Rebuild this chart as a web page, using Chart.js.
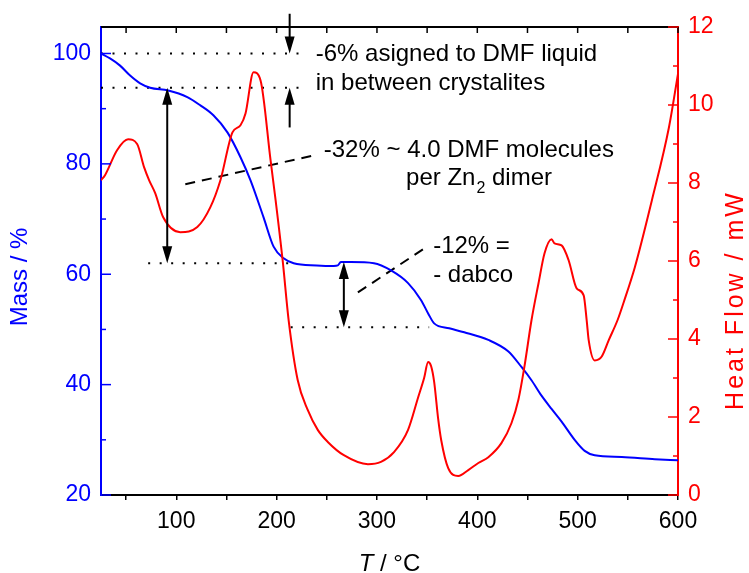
<!DOCTYPE html>
<html>
<head>
<meta charset="utf-8">
<script src="https://cdn.jsdelivr.net/npm/chart.js@4.4.0/dist/chart.umd.min.js"></script>
<style>
  html, body { margin: 0; padding: 0; background: #fff; }
</style>
</head>
<body>
<canvas id="tga" width="749" height="573"></canvas>
<script>
// -------------------------------
// Data
// -------------------------------
const massT = [25, 34, 44, 54, 64, 74, 92, 111, 124, 137, 151, 164, 174, 187, 197, 207, 217, 240, 257, 261, 264, 274, 297, 314, 331, 344, 351, 357, 372, 387, 411, 431, 444, 454, 464, 474, 484, 497, 507, 517, 544, 577, 600];
const massVal = [100, 99.1, 97.8, 96.0, 94.6, 93.8, 93.3, 92.1, 90.6, 88.8, 85.7, 81.2, 77.0, 70.3, 65.0, 62.9, 62.0, 61.6, 61.5, 61.6, 62.2, 62.2, 62.0, 60.7, 58.4, 55.3, 52.9, 51.1, 50.2, 49.5, 48.1, 46.0, 43.2, 40.8, 38.0, 35.6, 33.3, 30.0, 28.0, 27.2, 26.9, 26.5, 26.3];

const heatT = [25, 29, 41, 52, 61, 68, 73, 79, 87, 104, 121, 134, 144, 156, 164, 169, 177, 184, 194, 199, 206, 212, 221, 231, 241, 251, 267, 291, 304, 317, 331, 341, 347, 351, 354, 357, 361, 364, 371, 381, 391, 401, 411, 424, 434, 441, 447, 454, 461, 467, 474, 477, 484, 491, 499, 506, 509, 511, 517, 524, 531, 540, 546, 557, 574, 591, 600];
const heatVal = [8.07, 8.2, 8.84, 9.12, 9.0, 8.4, 8.07, 7.74, 7.12, 6.74, 6.87, 7.38, 8.07, 9.3, 9.48, 9.78, 10.84, 10.63, 8.58, 7.56, 6.02, 4.48, 2.95, 2.18, 1.67, 1.36, 1.02, 0.79, 0.85, 1.1, 1.67, 2.5, 3.0, 3.41, 3.3, 2.9, 1.95, 1.41, 0.69, 0.49, 0.64, 0.82, 0.97, 1.33, 1.84, 2.45, 3.3, 4.48, 5.43, 6.2, 6.56, 6.45, 6.4, 6.02, 5.3, 5.12, 4.48, 3.97, 3.45, 3.55, 3.97, 4.5, 4.95, 5.84, 7.56, 9.43, 10.8];

// dotted guide levels (mass %), and their T range
const dotLevel = [100, 93.8, 62, 50.4];
const dotFrom = [25, 25, 72, 214];
const dotTo = [230, 230, 214, 352];

// dashed leader lines (T, mass) -> (T, mass)
const dashT0 = [109, 281];
const dashM0 = [76.3, 56.7];
const dashT1 = [241, 349];
const dashM1 = [81.7, 64.9];

// arrows: at T, from mass -> to mass (head at "to"), both = heads on both ends
const arrowT = [213, 213, 91, 267];
const arrowFrom = [107.2, 86.6, 93.8, 62.2];
const arrowTo = [100, 93.8, 62, 50.4];
const arrowBoth = [false, false, true, true];

// annotation texts, anchored at (T, mass) = left baseline
const noteText = ['-6% asigned to DMF liquid', 'in between crystalites', '-32% ~ 4.0 DMF molecules', 'per Zn_2 dimer', '-12% =', '- dabco'];
const noteT = [239, 239, 247, 329, 356, 356];
const noteMass = [98.7, 93.3, 81.2, 76.1, 63.8, 58.6];

// -------------------------------
// Helpers
// -------------------------------
const FONT = '"Liberation Sans", Arial, sans-serif';
const BLUE = '#0000ff';
const RED = '#ff0000';

function pts(xs, ys) {
    return xs.map((x, i) => ({ x: x, y: ys[i] }));
}

function guide(points, dash) {
    return {
        data: points,
        yAxisID: 'y',
        borderColor: '#000',
        borderWidth: 2,
        borderDash: dash,
        pointRadius: 0,
        tension: 0
    };
}

function drawArrowHead(ctx, x, yTip, dir) {
    // dir = +1 points down, -1 points up
    ctx.beginPath();
    ctx.moveTo(x, yTip);
    ctx.lineTo(x - 5, yTip - dir * 17);
    ctx.lineTo(x + 5, yTip - dir * 17);
    ctx.closePath();
    ctx.fill();
}

// -------------------------------
// Decorations: inward ticks, frame, arrows, texts, axis titles
// -------------------------------
const decor = {
    id: 'decor',
    afterDraw(chart) {
        const { ctx, chartArea: a, scales } = chart;
        const x = scales.x, y = scales.y, y1 = scales.y1;
        ctx.save();

        // top frame line + ticks
        ctx.strokeStyle = '#000';
        ctx.lineWidth = 2;
        ctx.beginPath();
        ctx.moveTo(a.left, a.top);
        ctx.lineTo(a.right, a.top);
        ctx.stroke();
        ctx.lineWidth = 1.5;
        x.ticks.forEach(t => {
            const px = x.getPixelForValue(t.value);
            ctx.beginPath();
            ctx.moveTo(px, a.top);
            ctx.lineTo(px, a.top + 6);
            ctx.stroke();
        });

        // left ticks (inward)
        ctx.strokeStyle = BLUE;
        y.ticks.forEach(t => {
            const py = y.getPixelForValue(t.value);
            const len = t.value % 20 === 0 ? 10 : 5;
            ctx.beginPath();
            ctx.moveTo(a.left, py);
            ctx.lineTo(a.left + len, py);
            ctx.stroke();
        });

        // right ticks (inward)
        ctx.strokeStyle = RED;
        y1.ticks.forEach(t => {
            const py = y1.getPixelForValue(t.value);
            const len = t.value % 2 === 0 ? 10 : 5;
            ctx.beginPath();
            ctx.moveTo(a.right, py);
            ctx.lineTo(a.right - len, py);
            ctx.stroke();
        });

        // arrows
        ctx.strokeStyle = '#000';
        ctx.fillStyle = '#000';
        ctx.lineWidth = 2;
        arrowT.forEach((t, i) => {
            const px = x.getPixelForValue(t);
            const p0 = y.getPixelForValue(arrowFrom[i]);
            const p1 = y.getPixelForValue(arrowTo[i]);
            const dir = p1 > p0 ? 1 : -1;
            ctx.beginPath();
            ctx.moveTo(px, p0 + (arrowBoth[i] ? dir * 10 : 0));
            ctx.lineTo(px, p1 - dir * 10);
            ctx.stroke();
            drawArrowHead(ctx, px, p1, dir);
            if (arrowBoth[i]) drawArrowHead(ctx, px, p0, -dir);
        });

        // annotation texts
        ctx.textBaseline = 'alphabetic';
        ctx.textAlign = 'left';
        noteText.forEach((txt, i) => {
            let px = x.getPixelForValue(noteT[i]);
            const py = y.getPixelForValue(noteMass[i]);
            const parts = txt.split('_');
            ctx.font = '24px ' + FONT;
            ctx.fillText(parts[0], px, py);
            if (parts.length > 1) {
                px += ctx.measureText(parts[0]).width + 1;
                ctx.font = '16px ' + FONT;
                ctx.fillText(parts[1][0], px, py + 8);
                px += ctx.measureText(parts[1][0]).width;
                ctx.font = '24px ' + FONT;
                ctx.fillText(parts[1].slice(1), px, py);
            }
        });

        // axis titles
        ctx.font = '24px ' + FONT;
        ctx.textAlign = 'center';
        ctx.textBaseline = 'middle';
        ctx.fillStyle = BLUE;
        ctx.save();
        ctx.translate(20, 277);
        ctx.rotate(-Math.PI / 2);
        ctx.fillText('Mass / %', 0, 0);
        ctx.restore();

        ctx.fillStyle = RED;
        ctx.save();
        ctx.translate(736, 300);
        ctx.rotate(-Math.PI / 2);
        ctx.font = '25px ' + FONT;
        ctx.letterSpacing = '3px';
        ctx.fillText('Heat Flow / mW', 0, 0);
        ctx.letterSpacing = '0px';
        ctx.restore();

        // x title: italic T + " / °C"
        ctx.fillStyle = '#000';
        ctx.textBaseline = 'alphabetic';
        ctx.textAlign = 'left';
        ctx.font = 'italic 24px ' + FONT;
        const wT = ctx.measureText('T').width;
        ctx.font = '24px ' + FONT;
        const wRest = ctx.measureText(' / \u00b0C').width;
        const cx = (a.left + a.right) / 2;
        const sx = cx - (wT + wRest) / 2;
        ctx.font = 'italic 24px ' + FONT;
        ctx.fillText('T', sx, 571);
        ctx.font = '24px ' + FONT;
        ctx.fillText(' / \u00b0C', sx + wT, 571);

        ctx.restore();
    }
};

// -------------------------------
// Chart.js Setup
// -------------------------------
const datasets = [
    {
        data: pts(heatT, heatVal),
        yAxisID: 'y1',
        borderColor: RED,
        borderWidth: 2,
        pointRadius: 0,
        cubicInterpolationMode: 'monotone'
    },
    {
        data: pts(massT, massVal),
        yAxisID: 'y',
        borderColor: BLUE,
        borderWidth: 2,
        pointRadius: 0,
        cubicInterpolationMode: 'monotone'
    }
];
dotLevel.forEach((m, i) => {
    datasets.push(guide([{ x: dotFrom[i], y: m }, { x: dotTo[i], y: m }], [2, 9.5]));
});
dashT0.forEach((t, i) => {
    datasets.push(guide([{ x: t, y: dashM0[i] }, { x: dashT1[i], y: dashM1[i] }], [10, 7]));
});

const tickFont = { family: FONT, size: 23 };

new Chart(document.getElementById('tga'), {
    type: 'line',
    data: { datasets: datasets },
    options: {
        responsive: false,
        animation: false,
        layout: { padding: { top: 27, left: 0, right: 0, bottom: 0 } },
        plugins: {
            legend: { display: false },
            tooltip: { enabled: false }
        },
        scales: {
            x: {
                type: 'linear',
                position: 'bottom',
                min: 25,
                max: 600,
                ticks: {
                    stepSize: 50,
                    includeBounds: false,
                    autoSkip: false,
                    maxRotation: 0,
                    color: '#000',
                    font: tickFont,
                    padding: 8,
                    callback: v => (v % 100 === 0 ? String(v) : '')
                },
                grid: { display: true, drawOnChartArea: false, drawTicks: true, tickLength: 5, color: '#000', lineWidth: 1.5 },
                border: { display: true, color: '#000', width: 2 },
                afterFit: s => { s.height = 78; }
            },
            y: {
                position: 'left',
                min: 20,
                max: 104.8,
                ticks: {
                    stepSize: 10,
                    includeBounds: false,
                    color: BLUE,
                    font: tickFont,
                    padding: 10,
                    callback: v => (v % 20 === 0 ? String(v) : '')
                },
                grid: { display: false, drawTicks: false },
                border: { display: true, color: BLUE, width: 2 },
                afterFit: s => { s.width = 101; }
            },
            y1: {
                position: 'right',
                min: 0,
                max: 12,
                ticks: {
                    stepSize: 1,
                    includeBounds: false,
                    color: RED,
                    font: tickFont,
                    padding: 10,
                    callback: v => (v % 2 === 0 ? String(v) : '')
                },
                grid: { display: false, drawTicks: false },
                border: { display: true, color: RED, width: 2 },
                afterFit: s => { s.width = 71; }
            }
        }
    },
    plugins: [decor]
});
</script>
</body>
</html>
